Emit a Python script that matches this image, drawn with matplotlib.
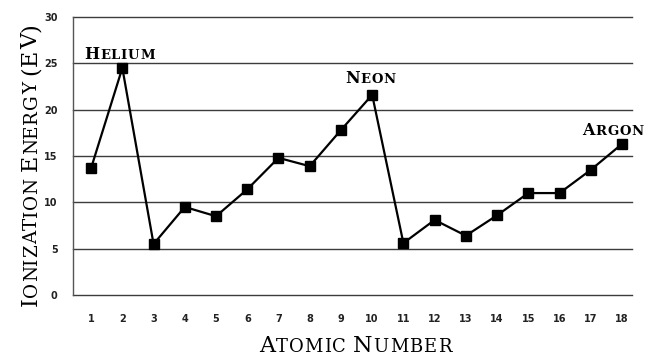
import matplotlib.pyplot as plt
from matplotlib.transforms import IdentityTransform

OUTPUT_FILE = 'out.png'

# Data
atomic_numbers = list(range(1, 19))
ionization_ev = [13.7, 24.5, 5.5, 9.5, 8.5, 11.4, 14.8, 13.9, 17.8,
                 21.6, 5.6, 8.1, 6.4, 8.6, 11.0, 11.0, 13.5, 16.3]
y_ticks = [0, 5, 10, 15, 20, 25, 30]
labels = {2: 'Helium', 10: 'Neon', 18: 'Argon'}
# pixel offset of each label's baseline centre from its point
label_offsets = {2: (-3, 9), 10: (-2, 12), 18: (-9, 9)}

SERIF = 'DejaVu Serif'


def smallcaps(fig, x, y, text, big, small, rotation=0, weight='normal',
              tracking=1.0):
    """Draw small-caps text centred on display pixel (x, y) at the baseline.

    Each letter is placed on its own so extra letter spacing can be added.
    """
    renderer = fig.canvas.get_renderer()
    pieces = []
    total = 0.0
    for ch in text:
        size = small if ch.islower() else big
        if ch == ' ':
            pieces.append((None, big * 0.4))
            total += big * 0.4
            continue
        t = fig.text(0, 0, ch.upper(), fontsize=size, family=SERIF,
                     fontweight=weight, transform=IdentityTransform(),
                     ha='left', va='baseline', rotation=rotation,
                     rotation_mode='anchor')
        ext = t.get_window_extent(renderer)
        w = (ext.height if rotation else ext.width) + tracking
        pieces.append((t, w))
        total += w
    total -= tracking

    pos = -total / 2
    for t, w in pieces:
        if t is not None:
            if rotation:
                t.set_position((x, y + pos))
            else:
                t.set_position((x + pos, y))
        pos += w


def generate_graph():
    fig = plt.figure(figsize=(6.46, 3.56), dpi=100)
    ax = fig.add_axes([73 / 646, 61 / 356, 559 / 646, 278 / 356])

    # grid lines (the reference draws them dark)
    for yv in y_ticks:
        ax.axhline(yv, color='#3c3c3c', linewidth=1.0, zorder=1, clip_on=False)

    ax.plot(atomic_numbers, ionization_ev, color='black', linewidth=1.6,
            marker='s', markersize=6.5, zorder=3, clip_on=False)

    ax.set_xlim(0.42, 18.32)
    ax.set_ylim(0, 30)
    ax.set_xticks(atomic_numbers)
    ax.set_yticks(y_ticks)
    ax.tick_params(axis='both', length=0, labelsize=7)
    ax.tick_params(axis='y', pad=11)
    ax.tick_params(axis='x', pad=14)
    for lbl in ax.get_xticklabels() + ax.get_yticklabels():
        lbl.set_fontweight('bold')
        lbl.set_color('#222222')

    for side in ['top', 'right', 'bottom']:
        ax.spines[side].set_visible(False)
    ax.spines['left'].set_color('#555555')
    ax.spines['left'].set_linewidth(1.0)

    # element labels next to their points
    for z, name in labels.items():
        px, py = ax.transData.transform((z, ionization_ev[z - 1]))
        dx, dy = label_offsets[z]
        smallcaps(fig, px + dx, py + dy, name, 11.5, 9.5, weight='bold',
                  tracking=0.8)

    # axis titles in small caps
    smallcaps(fig, 37, 356 - 165, 'Ionization Energy (EV)', 16, 13.2,
              rotation=90, tracking=0.5)
    smallcaps(fig, 355, 4, 'Atomic Number', 16, 13, tracking=1.0)

    fig.savefig(OUTPUT_FILE, dpi=100)


if __name__ == "__main__":
    generate_graph()
